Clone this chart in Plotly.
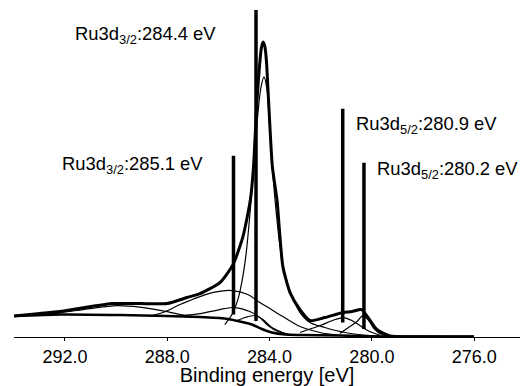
import plotly.graph_objects as go

# ---- data (binding energy in eV, intensity in a.u.) ----
env_E = [293.99, 292.98, 292.20, 291.22, 290.12, 289.07, 288.01, 287.23, 286.72, 285.94,
         285.43, 285.04, 284.75, 284.63, 284.49, 284.39, 284.32, 284.25, 284.18, 284.12,
         284.04, 283.89, 283.71, 283.60, 283.48, 283.20, 282.81, 282.42, 281.84, 281.13,
         280.78, 280.40, 280.15, 279.81, 279.29, 278.50, 276.01]
env_I = [21, 23.5, 25.5, 29.5, 33.5, 33.5, 33.5, 39.5, 43.5, 54.5,
         72.5, 100.5, 137.5, 169.5, 237.5, 272.5, 289.5, 295.5, 290.5, 275.5,
         237.5, 170.5, 137.5, 102.5, 70.5, 44.5, 27.5, 16.5, 19.5, 24.5,
         25.5, 27.5, 19.5, 7.5, 1, 0.3, 0.3]

bg_E = [293.99, 292.20, 289.85, 288.01, 286.72, 285.75, 285.16, 284.69, 284.30, 283.91,
        283.40, 282.81, 281.25, 279.69, 276.01]
bg_I = [21, 22.5, 22, 21, 20, 18.5, 15.5, 12.5, 8, 4.5,
        2.5, 2, 1.5, 0.5, 0.2]

main_E = [285.75, 285.47, 285.24, 285.08, 284.92, 284.77, 284.61, 284.46, 284.34, 284.22,
          284.10, 283.99, 283.87, 283.75, 283.60, 283.40, 283.12, 282.81, 282.42, 281.84,
          281.05, 280.08, 278.90]
main_I = [12.5, 22.5, 37.5, 55.5, 82.5, 122.5, 172.5, 222.5, 249.5, 260.5,
          247.5, 207.5, 162.5, 127.5, 92.5, 62.5, 40.5, 24.5, 14.5, 9.5,
          4.5, 1.5, 0.5]

sat_E = [292.98, 292.20, 291.02, 289.98, 289.07, 288.01, 287.31, 286.72]
sat_I = [22, 24.2, 28.5, 31.5, 30, 25.5, 21.5, 20]

broad_E = [288.68, 288.17, 287.50, 286.72, 286.14, 285.47, 284.85, 284.38, 283.99, 283.48,
           282.81, 282.03, 281.25]
broad_I = [21, 24.5, 32.5, 40.5, 45, 46.5, 42.5, 34.5, 28.5, 20.5,
           10.5, 4.5, 1.5]

ru3d32b_E = [287.50, 286.72, 285.94, 285.35, 284.77, 284.38, 284.06, 283.67, 283.20]
ru3d32b_I = [21.5, 23.5, 27.5, 29.5, 25.5, 19.5, 11.5, 5.5, 2.5]

ru3d32a_E = [285.35, 284.96, 284.57, 284.26, 283.91, 283.40]
ru3d32a_I = [15.5, 19.5, 21.5, 17.5, 9.5, 3.5]

ru3d52b_E = [282.81, 282.03, 281.44, 281.13, 280.78, 280.47, 280.08, 279.69]
ru3d52b_I = [4.5, 11.5, 17.5, 19.5, 16.5, 11.5, 5.5, 2]

ru3d52a_E = [281.25, 280.86, 280.58, 280.35, 280.15, 279.92, 279.61, 279.29]
ru3d52a_I = [3.5, 10.5, 15.5, 21.5, 17.5, 8.5, 2.5, 0.5]

# marker lines (position, top, bottom)
vline_E = [285.41, 284.53, 281.14, 280.31]
vline_top = [181.5, 327.5, 228.5, 174.5]
vline_bot = [22.5, 16, 14.5, 8]

labels = ["Ru3d<sub>3/2</sub>:285.1 eV", "Ru3d<sub>3/2</sub>:284.4 eV",
          "Ru3d<sub>5/2</sub>:280.9 eV", "Ru3d<sub>5/2</sub>:280.2 eV"]

tick_vals = [292, 288, 284, 280, 276]
tick_text = ["292.0", "288.0", "284.0", "280.0", "276.0"]

FONT = "Liberation Sans, Arial, Helvetica, sans-serif"

fig = go.Figure()

thin = dict(color="black", width=1.2, shape="spline", smoothing=0.8)
for E, I in [(sat_E, sat_I), (broad_E, broad_I), (ru3d32b_E, ru3d32b_I),
             (ru3d32a_E, ru3d32a_I), (ru3d52b_E, ru3d52b_I), (ru3d52a_E, ru3d52a_I),
             (main_E, main_I)]:
    fig.add_trace(go.Scatter(x=E, y=I, mode="lines", line=thin, hoverinfo="skip"))

fig.add_trace(go.Scatter(x=bg_E, y=bg_I, mode="lines",
                         line=dict(color="black", width=2.6, shape="spline", smoothing=0.6)))
fig.add_trace(go.Scatter(x=env_E, y=env_I, mode="lines",
                         line=dict(color="black", width=3, shape="spline", smoothing=0.6)))

vx, vy = [], []
for e, t, b in zip(vline_E, vline_top, vline_bot):
    vx += [e, e, None]
    vy += [b, t, None]
fig.add_trace(go.Scatter(x=vx, y=vy, mode="lines", line=dict(color="black", width=3.5)))

# label positions (paper coords)
ann_pos = [(0.090, 0.517), (0.117, 0.910), (0.672, 0.639), (0.714, 0.5017)]
for (px, py), txt in zip(ann_pos, labels):
    fig.add_annotation(x=px, y=py, xref="paper", yref="paper", text=txt,
                       showarrow=False, xanchor="left", yanchor="middle",
                       font=dict(family=FONT, size=18.4, color="black"))

fig.update_layout(
    width=520, height=386,
    margin=dict(l=14, r=0, t=5, b=48.5),
    paper_bgcolor="white", plot_bgcolor="white",
    showlegend=False,
    font=dict(family=FONT, color="black"),
    xaxis=dict(range=[293.99, 274.21], tickvals=tick_vals, ticktext=tick_text,
               showgrid=False, zeroline=False, showline=True, linecolor="black",
               linewidth=1, ticks="outside", ticklen=3, tickcolor="black",
               tickfont=dict(family=FONT, size=18, color="black"),
               automargin=False,
               title=dict(text="Binding energy [eV]", standoff=2,
                          font=dict(family=FONT, size=20, color="black"))),
    yaxis=dict(range=[0, 332.5], visible=False),
)

fig.write_html("out.html", config={"displayModeBar": False},
               post_script="document.body.style.margin='0';document.body.style.overflow='hidden';")
